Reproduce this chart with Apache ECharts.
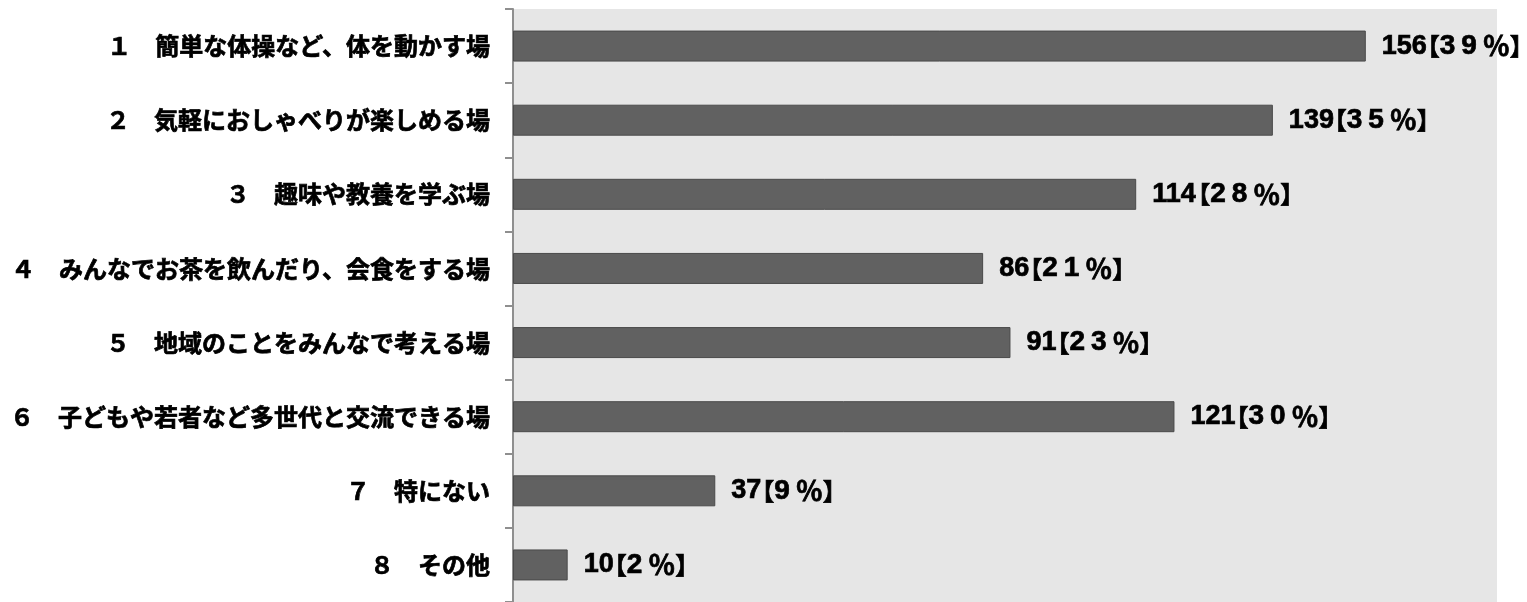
<!DOCTYPE html>
<html>
<head>
<meta charset="utf-8">
<script src="https://cdn.jsdelivr.net/npm/echarts@6/dist/echarts.min.js"></script>
<style>
  html, body { margin: 0; padding: 0; background: #ffffff; }
  #chart { width: 1527px; height: 602px; }
</style>
</head>
<body>
<div id="chart"></div>
<script>
// Survey answers: what kind of place respondents would like to have
const categories = [
  '１　簡単な体操など、体を動かす場',
  '２　気軽におしゃべりが楽しめる場',
  '３　趣味や教養を学ぶ場',
  '４　みんなでお茶を飲んだり、会食をする場',
  '５　地域のことをみんなで考える場',
  '６　子どもや若者など多世代と交流できる場',
  '７　特にない',
  '８　その他'
];
// Number of respondents per answer
const counts = [156, 139, 114, 86, 91, 121, 37, 10];
// Share of respondents (%)
const percents = [39, 35, 28, 21, 23, 30, 9, 2];

const chart = echarts.init(document.getElementById('chart'), null, { renderer: 'canvas' });

// "156【39％】": the count box is kept a little narrower than its digits so
// the opening bracket (drawn in the right half of its em box) sits close to it;
// each percent digit gets a fixed-width cell like a full-width figure.
function valueLabel(p) {
  const i = p.dataIndex;
  const n = String(counts[i]);
  const cells = String(percents[i]).split('').map(ch => '{d|' + ch + '}').join('');
  return '{n' + n.length + '|' + n + '}{l|【}' + cells + '{q|％}{r|】}';
}

const bold = { color: '#000000', textBorderColor: '#000000', textBorderWidth: 0.7 };
const countFont = { fontFamily: 'Liberation Sans', fontWeight: 'bold', fontSize: 27 };
const cjkFont = { fontFamily: 'Noto Sans CJK JP', fontWeight: 'bold', fontSize: 24 };

chart.setOption({
  backgroundColor: '#ffffff',
  animation: false,
  grid: {
    left: 513,
    top: 9,
    width: 984,
    height: 597,
    show: true,
    backgroundColor: '#e6e6e6',
    borderWidth: 0
  },
  xAxis: {
    type: 'value',
    min: 0,
    max: 180,
    show: false
  },
  yAxis: {
    type: 'category',
    data: categories,
    inverse: true,
    axisLine: { show: true, lineStyle: { color: '#8f8f8f', width: 2 } },
    axisTick: { show: true, length: 8, lineStyle: { color: '#8f8f8f', width: 2 } },
    axisLabel: Object.assign({ margin: 23 }, cjkFont, bold),
    splitLine: { show: false }
  },
  series: [{
    type: 'bar',
    data: counts,
    barWidth: 31,
    itemStyle: {
      color: '#616161',
      borderColor: '#4a4a4a',
      borderWidth: 1
    },
    label: {
      show: true,
      position: 'right',
      distance: 16,
      formatter: valueLabel,
      rich: {
        n2: Object.assign({ width: 19 }, countFont, bold),
        n3: Object.assign({ width: 34 }, countFont, bold),
        l: Object.assign({}, cjkFont, bold),
        d: Object.assign({ width: 21.5, fontFamily: 'Liberation Sans', fontWeight: 'bold', fontSize: 28 }, bold),
        q: Object.assign({}, cjkFont, bold, { fontSize: 27 }),
        r: Object.assign({}, cjkFont, bold)
      }
    }
  }]
});
</script>
</body>
</html>
